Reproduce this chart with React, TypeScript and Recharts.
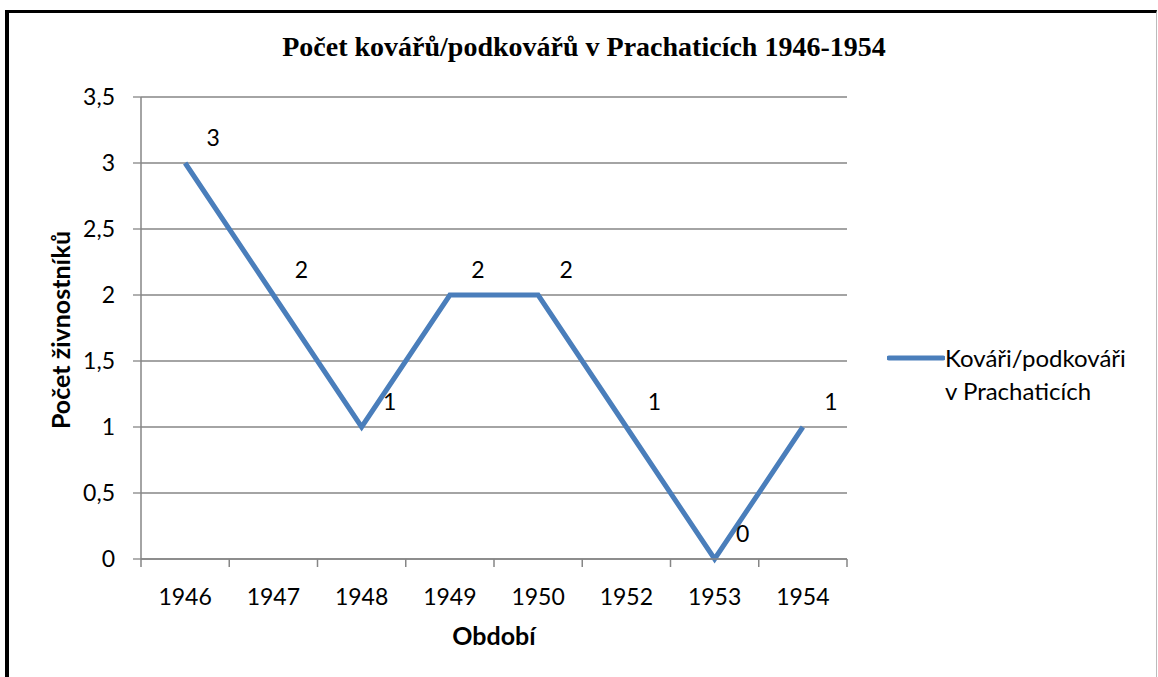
import React from 'react';
import { LineChart, Line, XAxis, YAxis, CartesianGrid, LabelList } from 'recharts';

const YEARS = ['1946', '1947', '1948', '1949', '1950', '1952', '1953', '1954'];
const COUNTS = [3, 2, 1, 2, 2, 1, 0, 1];
const Y_TICKS = [0, 0.5, 1, 1.5, 2, 2.5, 3, 3.5];

const SERIES_NAME = 'Kováři/podkováři v Prachaticích';
const TITLE = 'Počet kovářů/podkovářů v Prachaticích 1946-1954';

const data = YEARS.map((year, i) => ({ year, value: COUNTS[i] }));

const FONT = 'Lato, "Open Sans", sans-serif';
const BLUE = '#4a7ebb';
const GRID = '#868686';
const TICK_SIZE = 8;
const TICK_MARGIN = 22;

const DataLabel = (props: any) => {
    const { x, y, value } = props;
    return (
        <text x={x + 28} y={y - 26} textAnchor="middle" dominantBaseline="central"
            fontFamily={FONT} fontSize={23} fill="#000">
            {value}
        </text>
    );
};

// category tick: label in the band centre, tick marks on the band edges (Excel style)
const YearTick = (props: any) => {
    const { x, y, payload, index, visibleTicksCount } = props;
    const half = payload.offset ?? 44;
    const axisY = y - TICK_SIZE - TICK_MARGIN;
    const last = index === visibleTicksCount - 1;
    return (
        <g>
            <line x1={x - half} x2={x - half} y1={axisY} y2={axisY + TICK_SIZE} stroke={GRID} strokeWidth={1.5} />
            {last && <line x1={x + half} x2={x + half} y1={axisY} y2={axisY + TICK_SIZE} stroke={GRID} strokeWidth={1.5} />}
            <text x={x} y={y} dy="0.71em" textAnchor="middle" fontFamily={FONT} fontSize={23} fill="#000">
                {payload.value}
            </text>
        </g>
    );
};

export default function App() {
    return (
        <div style={{ position: 'absolute', left: 0, top: 0, width: 1158, height: 677, background: '#fff', fontFamily: FONT }}>
            {/* frame */}
            <div style={{
                position: 'absolute', left: 5, top: 10, width: 1147, height: 667,
                borderLeft: '4px solid #000', borderTop: '3px solid #000', borderRight: '1px solid #bbb',
            }} />

            <div style={{
                position: 'absolute', left: 0, top: 30, width: 1168, textAlign: 'center', lineHeight: '34px',
                fontFamily: '"Liberation Serif", "DejaVu Serif", serif', fontWeight: 'bold', fontSize: 28, color: '#000',
            }}>
                {TITLE}
            </div>

            <LineChart width={1158} height={677} data={data}
                margin={{ top: 97, right: 311, bottom: 88, left: 81 }}>
                <CartesianGrid vertical={false} stroke={GRID} strokeWidth={1.3} />
                <XAxis dataKey="year" scale="band" height={30} axisLine={{ stroke: GRID, strokeWidth: 1.5 }} tickLine={false}
                    tickSize={TICK_SIZE} tickMargin={TICK_MARGIN} tick={<YearTick />} interval={0} />
                <YAxis domain={[0, 3.5]} ticks={Y_TICKS} width={60} tickSize={8} tickMargin={18}
                    axisLine={{ stroke: GRID, strokeWidth: 1.5 }} tickLine={{ stroke: GRID, strokeWidth: 1.3 }}
                    tickFormatter={(v: number) => String(v).replace('.', ',')}
                    tick={{ fill: '#000', fontSize: 23, fontFamily: FONT }} />
                <Line dataKey="value" name={SERIES_NAME} stroke={BLUE} strokeWidth={5} dot={false} isAnimationActive={false}>
                    <LabelList dataKey="value" content={DataLabel} />
                </Line>
            </LineChart>

            <div style={{
                position: 'absolute', left: 0, top: 620, width: 988, textAlign: 'center',
                fontWeight: 'bold', fontSize: 25, color: '#000',
            }}>
                Období
            </div>

            <div style={{
                position: 'absolute', left: 60, top: 330, transform: 'translate(-50%, -50%) rotate(-90deg)',
                whiteSpace: 'nowrap', fontWeight: 'bold', fontSize: 25, color: '#000',
            }}>
                Počet živnostníků
            </div>

            {/* legend */}
            <div style={{ position: 'absolute', left: 887, top: 342, display: 'flex', alignItems: 'flex-start' }}>
                <svg width={58} height={32} style={{ flex: 'none' }}>
                    <line x1={2} y1={16} x2={56} y2={16} stroke={BLUE} strokeWidth={5} strokeLinecap="round" />
                </svg>
                <div style={{ fontSize: 24, lineHeight: '33px', color: '#000', width: 200, marginTop: -1 }}>
                    Kováři/podkováři<br />v Prachaticích
                </div>
            </div>
        </div>
    );
}
